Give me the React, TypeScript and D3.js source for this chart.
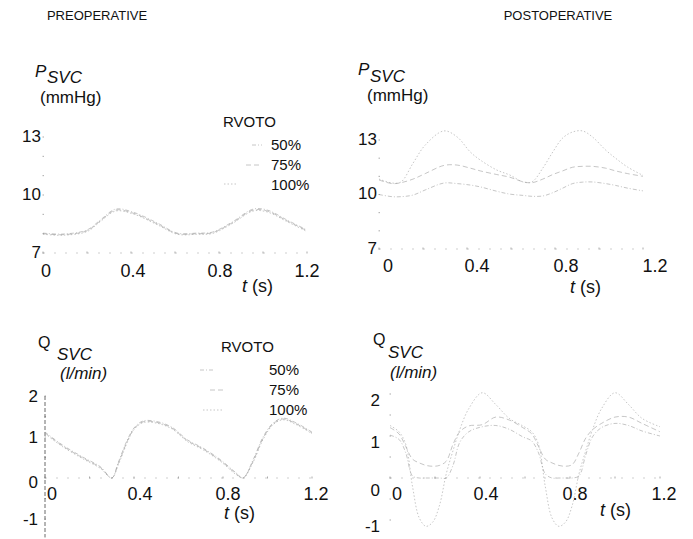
import React from "react";
import * as d3 from "d3";

// ---------- data ----------
const seriesNames = ["50%", "75%", "100%"];
const xTickLabels = [0, 0.4, 0.8, 1.2];
const xMinorTicks = [0, 0.2, 0.4, 0.6, 0.8, 1.0, 1.2];
const pTickLabels = [7, 10, 13];
const pMinorTicks = [7, 8, 9, 10, 11, 12, 13];
const qTickLabels = [-1, 0, 1, 2];
const qMinorTicks = [-1, -0.5, 0, 0.5, 1, 1.5, 2];

// Preoperative P_SVC (mmHg)
const tPreP = [0, 0.09, 0.2, 0.26, 0.33, 0.41, 0.52, 0.61, 0.7, 0.77, 0.86, 0.955, 1.02, 1.11, 1.2];
const preP50 = [8.03, 7.98, 8.19, 8.7, 9.27, 9.11, 8.55, 8.03, 8.03, 8.08, 8.6, 9.27, 9.22, 8.7, 8.19];
const preP75 = [8.0, 7.95, 8.15, 8.66, 9.22, 9.06, 8.5, 8.0, 8.0, 8.05, 8.56, 9.22, 9.17, 8.66, 8.15];
const preP100 = [7.97, 7.92, 8.11, 8.62, 9.17, 9.02, 8.46, 7.97, 7.97, 8.01, 8.52, 9.17, 9.12, 8.62, 8.11];

// Postoperative P_SVC (mmHg)
const tPostP = [0, 0.06, 0.1, 0.155, 0.21, 0.295, 0.355, 0.415, 0.46, 0.535, 0.595, 0.655, 0.695, 0.745, 0.79, 0.835, 0.88, 0.925, 0.97, 1.03, 1.075, 1.13, 1.2];
const postP50 = [10.0, 9.88, 9.88, 9.97, 10.25, 10.63, 10.6, 10.52, 10.42, 10.18, 10.02, 9.95, 9.9, 9.92, 10.1, 10.35, 10.6, 10.68, 10.69, 10.6, 10.5, 10.35, 10.2];
const postP75 = [10.8, 10.6, 10.65, 10.85, 11.15, 11.6, 11.62, 11.45, 11.3, 11.1, 10.95, 10.7, 10.65, 10.85, 11.1, 11.3, 11.5, 11.55, 11.55, 11.45, 11.3, 11.15, 11.0];
const postP100 = [10.85, 10.63, 10.69, 11.73, 12.72, 13.5, 13.17, 12.34, 11.9, 11.35, 11.07, 10.69, 10.69, 11.46, 12.34, 13.11, 13.44, 13.5, 13.17, 12.45, 12.0, 11.51, 11.05];

// Preoperative Q_SVC (l/min)
const tPreQ = [0, 0.08, 0.17, 0.25, 0.3, 0.33, 0.37, 0.4, 0.44, 0.5, 0.57, 0.64, 0.71, 0.79, 0.86, 0.89, 0.935, 0.98, 1.025, 1.07, 1.13, 1.2];
const preQ50 = [1.12, 0.8, 0.51, 0.27, 0.0, 0.39, 0.93, 1.22, 1.39, 1.38, 1.24, 0.93, 0.73, 0.44, 0.12, 0.0, 0.44, 1.0, 1.34, 1.46, 1.34, 1.12];
const preQ75 = [1.1, 0.78, 0.49, 0.25, 0.0, 0.36, 0.9, 1.2, 1.37, 1.36, 1.22, 0.91, 0.71, 0.42, 0.1, 0.0, 0.41, 0.97, 1.32, 1.44, 1.32, 1.1];
const preQ100 = [1.08, 0.76, 0.47, 0.23, 0.0, 0.33, 0.87, 1.18, 1.35, 1.34, 1.2, 0.89, 0.69, 0.4, 0.08, 0.0, 0.38, 0.94, 1.3, 1.42, 1.3, 1.08];

// Postoperative Q_SVC (l/min)
const tPostQ = [0, 0.04, 0.07, 0.1, 0.13, 0.16, 0.19, 0.22, 0.25, 0.28, 0.31, 0.35, 0.41, 0.47, 0.53, 0.59, 0.63, 0.66, 0.69, 0.72, 0.75, 0.78, 0.81, 0.84, 0.87, 0.9, 0.94, 1.0, 1.06, 1.12, 1.2];
const postQ50 = [1.02, 0.92, 0.6, 0.05, 0, 0, 0, 0, 0, 0.3, 0.85, 1.1, 1.22, 1.25, 1.16, 0.98, 0.88, 0.6, 0.1, 0, 0, 0, 0, 0.05, 0.55, 0.98, 1.2, 1.3, 1.25, 1.12, 1.0];
const postQ75 = [1.2, 1.05, 0.75, 0.45, 0.36, 0.3, 0.28, 0.3, 0.4, 0.8, 1.1, 1.24, 1.27, 1.45, 1.38, 1.2, 1.05, 0.75, 0.45, 0.36, 0.3, 0.28, 0.32, 0.6, 0.95, 1.15, 1.3, 1.45, 1.45, 1.3, 1.1];
const postQ100 = [1.25, 1.1, 0.8, -0.2, -0.95, -1.15, -1.05, -0.65, 0.1, 0.65, 1.15, 1.65, 2.03, 1.75, 1.42, 1.24, 1.1, 0.8, -0.2, -0.95, -1.15, -1.05, -0.65, 0.1, 0.65, 1.15, 1.65, 2.03, 1.75, 1.42, 1.22];

// ---------- styles ----------
const FONT = "'Liberation Sans', Arial, Helvetica, sans-serif";
const lineColor = "#a0a0a0";
const dashes = ["4,2,1,2", "5,3", "1.5,2"];

type PanelCfg = {
  xRange: [number, number];
  yDomain: [number, number];
  yRange: [number, number];
  xLabelRange: [number, number];
  xLabelY: number;
  yLabelX: number;
  yLabelDy: number;
  zeroLabelDy: number;
  yTicks: number[];
  yMinor: number[];
  t: number[];
  series: number[][];
  yAxisLine?: [number, number];
  axisAt: number;
};

function Panel({ cfg }: { cfg: PanelCfg }) {
  const x = d3.scaleLinear().domain([0, 1.2]).range(cfg.xRange);
  const y = d3.scaleLinear().domain(cfg.yDomain).range(cfg.yRange);
  const xl = d3.scaleLinear().domain([0, 1.2]).range(cfg.xLabelRange);
  const line = d3
    .line<number>()
    .x((_, i) => x(cfg.t[i]))
    .y((d) => y(d))
    .curve(d3.curveCatmullRom.alpha(0.5));
  const x0 = x(0);
  const yAxisY = y(cfg.axisAt);
  return (
    <g>
      <line x1={x0} x2={x(1.2)} y1={yAxisY} y2={yAxisY} stroke="#cfcfcf" strokeWidth={1} strokeDasharray="2,9" />
      {xMinorTicks.map((v) => (
        <line key={"xm" + v} x1={x(v)} x2={x(v)} y1={yAxisY - 1.5} y2={yAxisY + 0.5} stroke="#aaaaaa" strokeWidth={1} />
      ))}
      {cfg.yMinor.map((v) => (
        <line key={"ym" + v} x1={x0 - 0.5} x2={x0 + 1} y1={y(v)} y2={y(v)} stroke="#aaaaaa" strokeWidth={1} />
      ))}
      {cfg.yAxisLine && (
        <line x1={x0} x2={x0} y1={y(cfg.yAxisLine[0])} y2={y(cfg.yAxisLine[1])} stroke="#6a6a6a" strokeWidth={1} strokeDasharray="4,2" />
      )}
      {cfg.series.map((s, i) => (
        <path key={"s" + i} d={line(s) || ""} fill="none" stroke={lineColor} strokeOpacity={0.75} strokeWidth={0.8} strokeDasharray={dashes[i]} />
      ))}
      {xTickLabels.map((v) => (
        <text key={"xl" + v} x={xl(v)} y={cfg.xLabelY} fontSize={18} textAnchor="middle" fontFamily={FONT} fill="#111">
          {String(v)}
        </text>
      ))}
      {cfg.yTicks.map((v) => (
        <text
          key={"yl" + v}
          x={cfg.yLabelX}
          y={y(v) + cfg.yLabelDy + (v === 0 ? cfg.zeroLabelDy : 0)}
          fontSize={17}
          textAnchor="end"
          dominantBaseline="central"
          fontFamily={FONT}
          fill="#111"
        >
          {String(v)}
        </text>
      ))}
    </g>
  );
}

function Legend({ x, y, sampleX, sampleY }: { x: number; y: number[]; sampleX: [number, number][]; sampleY: number[] }) {
  return (
    <g fontFamily={FONT} fill="#111">
      <text x={x - 48} y={y[0]} fontSize={15}>RVOTO</text>
      {seriesNames.map((n, i) => (
        <g key={n}>
          <text x={x} y={y[i + 1]} fontSize={15}>{n}</text>
          <line x1={sampleX[i][0]} x2={sampleX[i][1]} y1={sampleY[i]} y2={sampleY[i]} stroke="#b8b8b8" strokeWidth={0.8} strokeDasharray={dashes[i]} />
        </g>
      ))}
    </g>
  );
}

function TLabel({ x, y }: { x: number; y: number }) {
  return (
    <text x={x} y={y} fontSize={18} fontFamily={FONT} fill="#111">
      <tspan fontStyle="italic">t</tspan>
      <tspan> (s)</tspan>
    </text>
  );
}

export default function App() {
  const tl: PanelCfg = {
    xRange: [43, 307], yDomain: [7, 13], yRange: [253, 137],
    xLabelRange: [46, 307], xLabelY: 277, yLabelX: 41, yLabelDy: -1, zeroLabelDy: 0,
    yTicks: pTickLabels, yMinor: pMinorTicks, t: tPreP, series: [preP50, preP75, preP100], axisAt: 7,
  };
  const tr: PanelCfg = {
    xRange: [379, 643], yDomain: [7, 13], yRange: [249, 140],
    xLabelRange: [388, 655], xLabelY: 272, yLabelX: 377, yLabelDy: -1, zeroLabelDy: 0,
    yTicks: pTickLabels, yMinor: pMinorTicks, t: tPostP, series: [postP50, postP75, postP100], axisAt: 7,
  };
  const bl: PanelCfg = {
    xRange: [45, 312], yDomain: [-1, 2], yRange: [519, 396],
    xLabelRange: [52, 316], xLabelY: 500, yLabelX: 38, yLabelDy: 0, zeroLabelDy: 4,
    yTicks: qTickLabels, yMinor: qMinorTicks, t: tPreQ, series: [preQ50, preQ75, preQ100],
    yAxisLine: [2, -1.45], axisAt: 0,
  };
  const br: PanelCfg = {
    xRange: [390, 660], yDomain: [-1, 2], yRange: [520, 394],
    xLabelRange: [397, 664], xLabelY: 500, yLabelX: 380, yLabelDy: 6, zeroLabelDy: 6,
    yTicks: qTickLabels, yMinor: qMinorTicks, t: tPostQ, series: [postQ50, postQ75, postQ100], axisAt: 0,
  };

  return (
    <svg width={693} height={539} style={{ position: "absolute", left: 0, top: 0, background: "#fff" }} fontFamily={FONT}>
      <rect width={693} height={539} fill="#fff" />
      <text x={97} y={20} fontSize={13} textAnchor="middle" fill="#111">PREOPERATIVE</text>
      <text x={558} y={20} fontSize={13} textAnchor="middle" fill="#111">POSTOPERATIVE</text>

      {/* axis titles */}
      <text x={35} y={77} fontSize={17} fontStyle="italic" fill="#111">P</text>
      <text x={47} y={83} fontSize={17} fontStyle="italic" fill="#111">SVC</text>
      <text x={40} y={103} fontSize={17} fill="#111">(mmHg)</text>

      <text x={358} y={75} fontSize={17} fontStyle="italic" fill="#111">P</text>
      <text x={370} y={82} fontSize={17} fontStyle="italic" fill="#111">SVC</text>
      <text x={367} y={101} fontSize={17} fill="#111">(mmHg)</text>

      <text x={38} y={348} fontSize={16} fill="#111">Q</text>
      <text x={57} y={360} fontSize={17} fontStyle="italic" fill="#111">SVC</text>
      <text x={60} y={379} fontSize={17} fontStyle="italic" fill="#111">(l/min)</text>

      <text x={373} y={345} fontSize={16} fill="#111">Q</text>
      <text x={388} y={358} fontSize={17} fontStyle="italic" fill="#111">SVC</text>
      <text x={390} y={378} fontSize={17} fontStyle="italic" fill="#111">(l/min)</text>

      <Panel cfg={tl} />
      <Panel cfg={tr} />
      <Panel cfg={bl} />
      <Panel cfg={br} />

      <Legend x={271} y={[127, 150, 170, 190]} sampleX={[[252, 262], [246, 262], [224, 236]]} sampleY={[145, 165, 184]} />
      <Legend x={269} y={[352, 375, 395, 415]} sampleX={[[200, 213], [210, 223], [203, 222]]} sampleY={[370, 390, 410]} />

      <TLabel x={242} y={292} />
      <TLabel x={570} y={293} />
      <TLabel x={224} y={519} />
      <TLabel x={600} y={516} />
    </svg>
  );
}
